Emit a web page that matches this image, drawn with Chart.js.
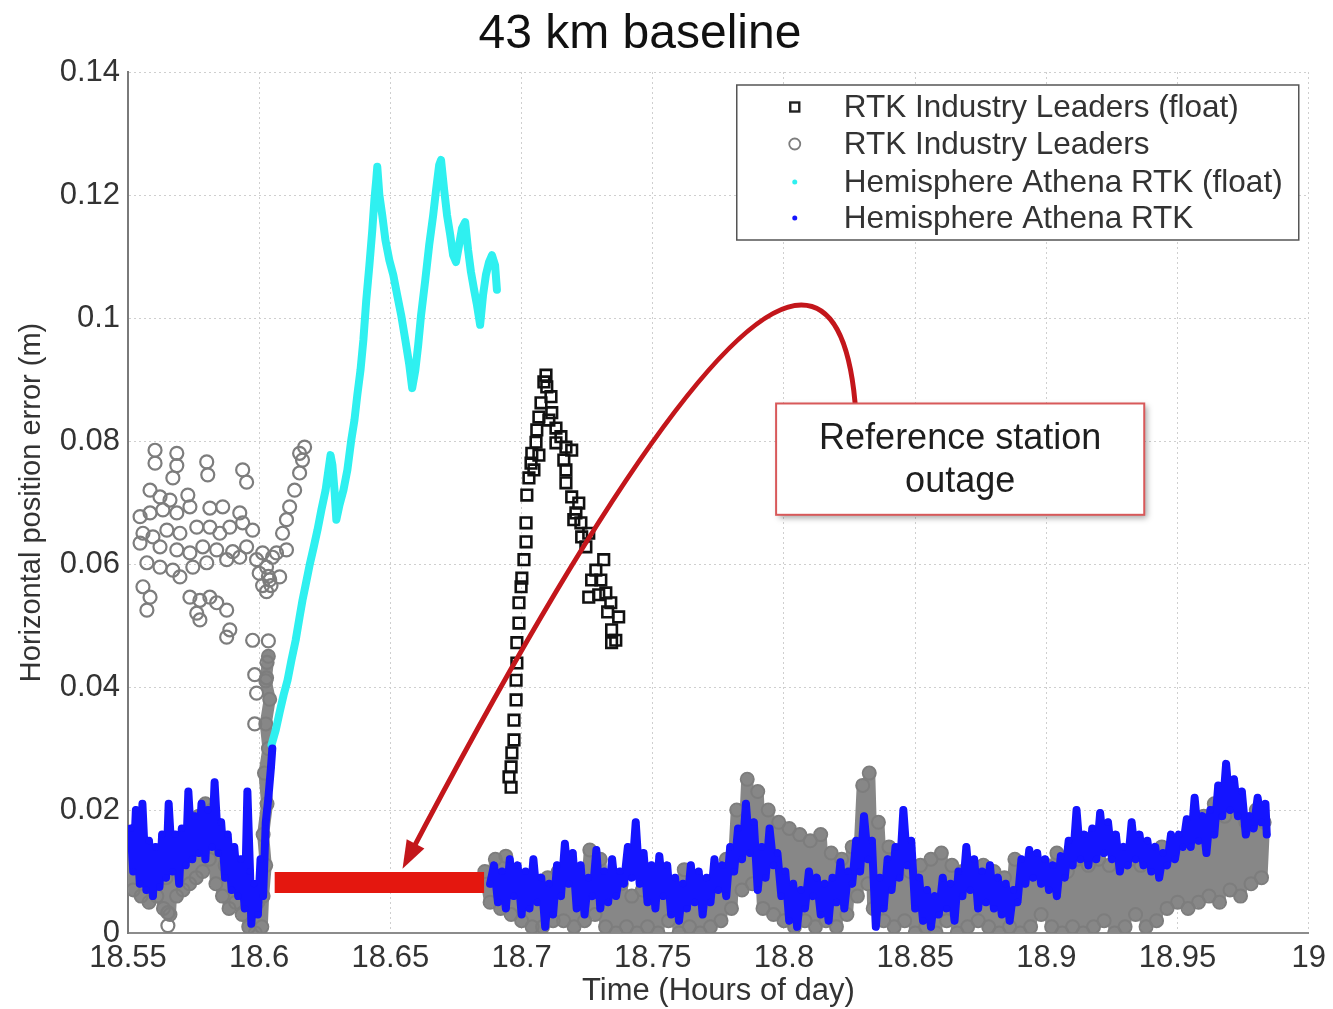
<!DOCTYPE html>
<html>
<head>
<meta charset="utf-8">
<title>43 km baseline</title>
<script src="https://cdn.jsdelivr.net/npm/chart.js@4.4.1/dist/chart.umd.min.js"></script>
<style>
  html, body { margin: 0; padding: 0; background: #fff; }
  #grafica { display: block; }
</style>
</head>
<body>
<canvas id="grafica" width="1333" height="1009"></canvas>
<script>
// ticks
const xTicks = [18.55, 18.6, 18.65, 18.7, 18.75, 18.8, 18.85, 18.9, 18.95, 19];
const yTicks = [0, 0.02, 0.04, 0.06, 0.08, 0.1, 0.12, 0.14];

const chartTitle = "43 km baseline";
const legendLabels = [
  "RTK Industry Leaders (float)",
  "RTK Industry Leaders",
  "Hemisphere Athena RTK (float)",
  "Hemisphere Athena RTK"
];

// RTK Industry Leaders (float) - squares [hour, m]
const leadersFloat = [
  [18.7093,0.0907],[18.7096,0.0888],[18.7074,0.0862],[18.7112,0.0872],[18.7066,0.0839],[18.7115,0.0846],
  [18.7058,0.0818],[18.7131,0.0821],[18.7055,0.0798],[18.7150,0.0807],[18.7039,0.0780],[18.7169,0.0790],
  [18.7191,0.0785],[18.7036,0.0764],[18.7161,0.0769],[18.7028,0.0740],[18.7169,0.0753],[18.7020,0.0712],
  [18.7169,0.0732],[18.7191,0.0709],[18.7218,0.0699],[18.7207,0.0683],[18.7226,0.0667],[18.7229,0.0644],
  [18.7256,0.0650],[18.7245,0.0628],[18.7017,0.0667],[18.7017,0.0636],[18.7009,0.0607],[18.7001,0.0577],
  [18.6998,0.0563],[18.7313,0.0607],[18.7267,0.0574],[18.7256,0.0546],[18.7302,0.0574],[18.7321,0.0553],
  [18.7340,0.0537],[18.7370,0.0514],[18.7343,0.0493],[18.7343,0.0472],[18.7359,0.0476],[18.6990,0.0537],
  [18.6990,0.0504],[18.6982,0.0472],[18.6982,0.0439],[18.6979,0.0411],[18.6979,0.0379],[18.6971,0.0346],
  [18.6971,0.0314],[18.6963,0.0293],[18.6960,0.0270],[18.6952,0.0254],[18.6960,0.0237],[18.7131,0.0797],
  [18.7085,0.0896],[18.7104,0.0834],[18.7199,0.0672],[18.7283,0.0590],[18.7328,0.0522],[18.7294,0.0550],
  [18.7047,0.0753],[18.7066,0.0777]
];

// RTK Industry Leaders - scattered circles
const leadersScatter = [
  [18.5603,0.0785],[18.5603,0.0764],[18.5686,0.0780],[18.5686,0.0760],[18.5671,0.0740],[18.5800,0.0766],
  [18.5804,0.0745],[18.5937,0.0753],[18.5952,0.0733],[18.5584,0.0720],[18.5622,0.0709],[18.5660,0.0704],
  [18.5728,0.0712],[18.5546,0.0677],[18.5584,0.0683],[18.5633,0.0688],[18.5686,0.0683],[18.5736,0.0693],
  [18.5812,0.0691],[18.5861,0.0693],[18.5926,0.0683],[18.5557,0.0650],[18.5595,0.0644],[18.5648,0.0655],
  [18.5698,0.0650],[18.5762,0.0660],[18.5812,0.0660],[18.5850,0.0650],[18.5888,0.0660],[18.5937,0.0667],
  [18.5975,0.0655],[18.5546,0.0634],[18.5622,0.0628],[18.5686,0.0623],[18.5736,0.0618],[18.5785,0.0628],
  [18.5838,0.0623],[18.5899,0.0620],[18.5952,0.0628],[18.6013,0.0618],[18.6051,0.0611],[18.6104,0.0623],
  [18.5572,0.0602],[18.5622,0.0595],[18.5671,0.0590],[18.5747,0.0595],[18.5800,0.0602],[18.5876,0.0607],
  [18.5926,0.0611],[18.5990,0.0607],[18.6028,0.0595],[18.6040,0.0574],[18.6078,0.0579],[18.5557,0.0563],
  [18.5584,0.0546],[18.5572,0.0525],[18.5698,0.0579],[18.5736,0.0546],[18.5774,0.0541],[18.5812,0.0546],
  [18.5838,0.0537],[18.5762,0.0520],[18.5774,0.0509],[18.5876,0.0525],[18.5888,0.0493],[18.5876,0.0481],
  [18.6066,0.0618],[18.6089,0.0650],[18.6104,0.0672],[18.6116,0.0693],[18.6135,0.0720],[18.6154,0.0748],
  [18.6165,0.0769],[18.6173,0.0790],[18.6154,0.0780],[18.5975,0.0476],[18.5983,0.0420],[18.5990,0.0390],
  [18.5983,0.0340],[18.6013,0.0565],[18.6028,0.0555],[18.6035,0.0580],[18.6045,0.0565],[18.6000,0.0585],
  [18.6035,0.0475],[18.6030,0.0440],[18.6028,0.0415],[18.5652,0.0033],[18.5652,0.0012]
];

// RTK Industry Leaders - dense trace before the outage
const leadersBefore = [
  [18.551,0.014],[18.552,0.007],[18.5535,0.013],[18.555,0.006],[18.5565,0.012],[18.558,0.005],
  [18.5595,0.011],[18.561,0.006],[18.562,0.010],[18.5635,0.004],[18.5645,0.009],[18.566,0.003],
  [18.567,0.011],[18.5685,0.006],[18.5695,0.013],[18.571,0.007],[18.572,0.014],[18.5735,0.008],
  [18.5745,0.016],[18.576,0.009],[18.577,0.019],[18.5785,0.010],[18.5795,0.021],[18.581,0.012],
  [18.582,0.020],[18.5835,0.008],[18.5845,0.015],[18.586,0.006],[18.587,0.011],[18.5885,0.004],
  [18.5895,0.012],[18.591,0.005],[18.592,0.010],[18.5935,0.003],[18.5945,0.008],[18.596,0.001],
  [18.597,0.006],[18.5985,0.000],[18.5995,0.005],[18.601,0.001],[18.6015,0.006],[18.6025,0.011],
  [18.6015,0.016],[18.603,0.021],[18.602,0.026],[18.6035,0.030],[18.6025,0.034],[18.604,0.038],
  [18.6025,0.041],[18.6035,0.045]
];

// RTK Industry Leaders - dense trace after the outage
const leadersAfter = [
  [18.686,0.010],[18.688,0.005],[18.690,0.012],[18.692,0.004],[18.694,0.0125],[18.696,0.003],
  [18.698,0.009],[18.700,0.002],[18.702,0.008],[18.704,0.001],[18.706,0.007],[18.708,0.001],
  [18.710,0.009],[18.712,0.002],[18.714,0.010],[18.716,0.002],[18.718,0.009],[18.720,0.001],
  [18.722,0.008],[18.724,0.002],[18.726,0.0135],[18.728,0.003],[18.730,0.012],[18.732,0.001],
  [18.734,0.007],[18.736,0.000],[18.738,0.008],[18.740,0.001],[18.742,0.006],[18.744,0.000],
  [18.746,0.007],[18.748,0.001],[18.750,0.006],[18.752,0.000],[18.754,0.007],[18.756,0.002],
  [18.758,0.006],[18.760,0.000],[18.762,0.0103],[18.764,0.001],[18.766,0.007],[18.768,0.000],
  [18.770,0.006],[18.772,0.001],[18.774,0.008],[18.776,0.002],[18.778,0.012],[18.780,0.004],
  [18.782,0.020],[18.784,0.007],[18.786,0.025],[18.788,0.008],[18.790,0.023],[18.792,0.004],
  [18.794,0.020],[18.796,0.003],[18.798,0.018],[18.800,0.002],[18.802,0.017],[18.804,0.001],
  [18.806,0.016],[18.808,0.002],[18.810,0.015],[18.812,0.001],[18.814,0.016],[18.816,0.002],
  [18.818,0.013],[18.820,0.001],[18.822,0.012],[18.824,0.003],[18.826,0.014],[18.828,0.006],
  [18.830,0.024],[18.832,0.008],[18.8325,0.026],[18.834,0.004],[18.836,0.018],[18.838,0.002],
  [18.840,0.014],[18.842,0.001],[18.844,0.013],[18.846,0.002],[18.848,0.010],[18.850,0.000],
  [18.852,0.011],[18.854,0.001],[18.856,0.012],[18.858,0.000],[18.860,0.013],[18.862,0.002],
  [18.864,0.011],[18.866,0.000],[18.868,0.010],[18.870,0.001],[18.872,0.009],[18.874,0.002],
  [18.876,0.011],[18.878,0.001],[18.880,0.010],[18.882,0.000],[18.884,0.009],[18.886,0.001],
  [18.888,0.012],[18.890,0.000],[18.892,0.011],[18.894,0.001],[18.896,0.010],[18.898,0.003],
  [18.900,0.011],[18.902,0.001],[18.904,0.013],[18.906,0.000],[18.908,0.010],[18.910,0.001],
  [18.912,0.012],[18.914,0.000],[18.916,0.011],[18.918,0.001],[18.920,0.012],[18.922,0.002],
  [18.924,0.011],[18.926,0.000],[18.928,0.013],[18.930,0.001],[18.932,0.012],[18.934,0.003],
  [18.936,0.011],[18.938,0.001],[18.940,0.012],[18.942,0.002],[18.944,0.014],[18.946,0.004],
  [18.948,0.013],[18.950,0.005],[18.952,0.015],[18.954,0.004],[18.956,0.017],[18.958,0.005],
  [18.960,0.019],[18.962,0.006],[18.964,0.021],[18.966,0.005],[18.968,0.019],[18.970,0.007],
  [18.972,0.021],[18.974,0.006],[18.976,0.018],[18.978,0.008],[18.980,0.020],[18.982,0.009],
  [18.983,0.018]
];

// Hemisphere Athena RTK (float) - cyan
const athenaFloat = [
  [18.6047,0.0306],[18.6063,0.0330],[18.6078,0.0359],[18.6093,0.0387],[18.6108,0.0411],[18.6123,0.0444],
  [18.6139,0.0476],[18.6154,0.0514],[18.6165,0.0541],[18.6177,0.0566],[18.6192,0.0598],[18.6207,0.0626],
  [18.6222,0.0655],[18.6237,0.0688],[18.6253,0.0720],[18.6264,0.0753],[18.6272,0.0777],[18.6279,0.0761],
  [18.6287,0.0720],[18.6294,0.0672],[18.6306,0.0696],[18.6321,0.0720],[18.6336,0.0753],[18.6351,0.0802],
  [18.6363,0.0834],[18.6374,0.0875],[18.6386,0.0915],[18.6397,0.0964],[18.6408,0.1029],[18.6420,0.1086],
  [18.6431,0.1143],[18.6439,0.1192],[18.6446,0.1224],[18.6450,0.1246],[18.6458,0.1200],[18.6469,0.1167],
  [18.6481,0.1127],[18.6496,0.1094],[18.6511,0.1070],[18.6526,0.1037],[18.6541,0.1005],[18.6557,0.0964],
  [18.6572,0.0924],[18.6583,0.0886],[18.6595,0.0915],[18.6606,0.0956],[18.6617,0.1005],[18.6633,0.1062],
  [18.6648,0.1119],[18.6663,0.1167],[18.6674,0.1208],[18.6686,0.1249],[18.6693,0.1257],[18.6705,0.1208],
  [18.6716,0.1167],[18.6728,0.1135],[18.6739,0.1102],[18.6750,0.1091],[18.6762,0.1119],[18.6773,0.1146],
  [18.6785,0.1156],[18.6796,0.1111],[18.6807,0.1075],[18.6819,0.1046],[18.6830,0.1021],[18.6842,0.0989],
  [18.6853,0.1037],[18.6864,0.1070],[18.6876,0.1091],[18.6887,0.1102],[18.6899,0.1086],[18.6906,0.1046]
];

// Hemisphere Athena RTK - blue, before the outage
const athenaBefore = [
  [18.551,0.017],[18.552,0.010],[18.553,0.020],[18.5545,0.008],[18.5555,0.021],[18.557,0.007],
  [18.558,0.015],[18.5595,0.006],[18.5605,0.014],[18.562,0.0075],[18.563,0.016],[18.5645,0.009],
  [18.5655,0.021],[18.567,0.010],[18.568,0.016],[18.5695,0.008],[18.5705,0.017],[18.572,0.011],
  [18.573,0.023],[18.5745,0.012],[18.5755,0.019],[18.577,0.013],[18.578,0.021],[18.5795,0.012],
  [18.5805,0.020],[18.582,0.014],[18.583,0.0245],[18.5845,0.013],[18.5855,0.018],[18.587,0.009],
  [18.588,0.016],[18.5895,0.007],[18.5905,0.014],[18.592,0.006],[18.593,0.012],[18.5945,0.004],
  [18.5955,0.023],[18.5965,0.010],[18.597,0.0015],[18.598,0.008],[18.5995,0.003],[18.6005,0.012],
  [18.6015,0.006],[18.6025,0.018],[18.6035,0.022],[18.6045,0.027],[18.605,0.030]
];

// Hemisphere Athena RTK - blue, after the outage
const athenaAfter = [
  [18.688,0.008],[18.6895,0.011],[18.691,0.005],[18.6925,0.010],[18.694,0.004],[18.6955,0.012],
  [18.697,0.006],[18.6985,0.011],[18.700,0.003],[18.7015,0.010],[18.703,0.004],[18.7045,0.012],
  [18.706,0.005],[18.7075,0.009],[18.709,0.001],[18.7105,0.008],[18.712,0.003],[18.7135,0.011],
  [18.715,0.006],[18.7165,0.0145],[18.718,0.008],[18.7195,0.013],[18.721,0.004],[18.7225,0.011],
  [18.724,0.003],[18.7255,0.009],[18.727,0.006],[18.7285,0.0135],[18.730,0.004],[18.7315,0.010],
  [18.733,0.005],[18.7345,0.012],[18.736,0.006],[18.7375,0.010],[18.739,0.008],[18.7405,0.014],
  [18.742,0.009],[18.7435,0.018],[18.745,0.008],[18.7465,0.013],[18.748,0.005],[18.7495,0.011],
  [18.751,0.004],[18.7525,0.0125],[18.754,0.006],[18.7555,0.011],[18.757,0.003],[18.7585,0.009],
  [18.760,0.002],[18.7615,0.008],[18.763,0.004],[18.7645,0.011],[18.766,0.005],[18.7675,0.010],
  [18.769,0.003],[18.7705,0.009],[18.772,0.005],[18.7735,0.012],[18.775,0.007],[18.7765,0.011],
  [18.778,0.006],[18.7795,0.014],[18.781,0.010],[18.7825,0.017],[18.784,0.012],[18.7855,0.021],
  [18.787,0.013],[18.7885,0.018],[18.790,0.007],[18.7915,0.014],[18.793,0.009],[18.7945,0.017],
  [18.796,0.011],[18.7975,0.013],[18.799,0.006],[18.8005,0.010],[18.802,0.002],[18.8035,0.008],
  [18.805,0.001],[18.8065,0.007],[18.808,0.004],[18.8095,0.010],[18.811,0.006],[18.8125,0.009],
  [18.814,0.003],[18.8155,0.008],[18.817,0.002],[18.8185,0.009],[18.820,0.005],[18.8215,0.0115],
  [18.823,0.004],[18.8245,0.010],[18.826,0.008],[18.8275,0.015],[18.829,0.010],[18.8305,0.019],
  [18.832,0.012],[18.8335,0.015],[18.835,0.001],[18.8365,0.009],[18.838,0.004],[18.8395,0.012],
  [18.841,0.007],[18.8425,0.014],[18.844,0.009],[18.8455,0.020],[18.847,0.011],[18.8485,0.015],
  [18.850,0.004],[18.8515,0.009],[18.853,0.002],[18.8545,0.007],[18.856,0.001],[18.8575,0.006],
  [18.859,0.003],[18.8605,0.009],[18.862,0.004],[18.8635,0.008],[18.865,0.002],[18.8665,0.010],
  [18.868,0.006],[18.8695,0.014],[18.871,0.007],[18.8725,0.012],[18.874,0.004],[18.8755,0.010],
  [18.877,0.005],[18.8785,0.011],[18.880,0.004],[18.8815,0.009],[18.883,0.003],[18.8845,0.008],
  [18.886,0.002],[18.8875,0.007],[18.889,0.005],[18.8905,0.012],[18.892,0.008],[18.8935,0.0135],
  [18.895,0.009],[18.8965,0.013],[18.898,0.008],[18.8995,0.012],[18.901,0.007],[18.9025,0.011],
  [18.904,0.006],[18.9055,0.0125],[18.907,0.009],[18.9085,0.015],[18.910,0.011],[18.9115,0.020],
  [18.913,0.012],[18.9145,0.016],[18.916,0.011],[18.9175,0.017],[18.919,0.012],[18.9205,0.0195],
  [18.922,0.013],[18.9235,0.018],[18.925,0.012],[18.9265,0.016],[18.928,0.010],[18.9295,0.014],
  [18.931,0.011],[18.9325,0.018],[18.934,0.012],[18.9355,0.016],[18.937,0.011],[18.9385,0.015],
  [18.940,0.010],[18.9415,0.014],[18.943,0.009],[18.9445,0.013],[18.946,0.011],[18.9475,0.016],
  [18.949,0.012],[18.9505,0.016],[18.952,0.014],[18.9535,0.0185],[18.955,0.014],[18.9565,0.022],
  [18.958,0.015],[18.9595,0.019],[18.961,0.013],[18.9625,0.020],[18.964,0.016],[18.9655,0.024],
  [18.967,0.019],[18.9685,0.0275],[18.970,0.020],[18.9715,0.025],[18.973,0.019],[18.9745,0.023],
  [18.976,0.016],[18.9775,0.019],[18.979,0.017],[18.9805,0.022],[18.982,0.018],[18.9835,0.021],
  [18.984,0.016]
];

// reference station outage (red bar)
const outage = [[18.6059, 0.0082], [18.6857, 0.0082]];

const toXY = arr => arr.map(p => ({ x: p[0], y: p[1] }));
const FONT = "'Liberation Sans', Arial, Helvetica, sans-serif";

const GRAY = "#7d7d7d";
const CYAN = "#2ff0f0";
const BLUE = "#1414ff";

// title, arrow, box and legend drawn on top of the plot
const extras = {
  id: "extras",
  afterDatasetsDraw(chart) {
    const c = chart.ctx, xs = chart.scales.x, ys = chart.scales.y;
    const P = (x, y) => [xs.getPixelForValue(x), ys.getPixelForValue(y)];
    const p0 = P(18.8271, 0.0862), c1 = P(18.8237, 0.1021), p1 = P(18.8066, 0.1021);
    const c2 = P(18.7674, 0.1021), p2 = P(18.6564, 0.0119);
    c.save();
    c.strokeStyle = "#c3161b";
    c.fillStyle = "#c3161b";
    c.lineWidth = 5;
    c.lineCap = "round";
    c.beginPath();
    c.moveTo(p0[0], p0[1]);
    c.quadraticCurveTo(c1[0], c1[1], p1[0], p1[1]);
    c.quadraticCurveTo(c2[0], c2[1], p2[0], p2[1]);
    c.stroke();
    // arrow head
    let dx = p2[0] - c2[0], dy = p2[1] - c2[1];
    const len = Math.hypot(dx, dy); dx /= len; dy /= len;
    const tip = [p2[0] + dx * 10, p2[1] + dy * 10];
    const base = [tip[0] - dx * 28, tip[1] - dy * 28];
    c.beginPath();
    c.moveTo(tip[0], tip[1]);
    c.lineTo(base[0] - dy * 10, base[1] + dx * 10);
    c.lineTo(base[0] + dy * 10, base[1] - dx * 10);
    c.closePath();
    c.fill();
    c.restore();
  },
  afterDraw(chart) {
    const c = chart.ctx, a = chart.chartArea, xs = chart.scales.x, ys = chart.scales.y;

    // title
    c.save();
    c.fillStyle = "#111";
    c.font = "48px " + FONT;
    c.textAlign = "center";
    c.textBaseline = "middle";
    c.fillText(chartTitle, 640, 35);
    c.restore();

    // annotation box
    const l = xs.getPixelForValue(18.797), r = xs.getPixelForValue(18.9373);
    const t = ys.getPixelForValue(0.0861), b = ys.getPixelForValue(0.068);
    c.save();
    c.shadowColor = "rgba(0,0,0,0.35)";
    c.shadowBlur = 6;
    c.shadowOffsetX = 3;
    c.shadowOffsetY = 3;
    c.fillStyle = "#fff";
    c.fillRect(l, t, r - l, b - t);
    c.restore();
    c.save();
    c.strokeStyle = "#d8595a";
    c.lineWidth = 2;
    c.strokeRect(l, t, r - l, b - t);
    c.fillStyle = "#1e1e1e";
    c.font = "36px " + FONT;
    c.textAlign = "center";
    c.textBaseline = "middle";
    c.fillText("Reference station", (l + r) / 2, t + 36);
    c.fillText("outage", (l + r) / 2, t + 79);
    c.restore();

    // legend
    const bw = 562, bh = 155;
    const bx = a.right - 10 - bw, by = a.top + 13;
    c.save();
    c.fillStyle = "#fff";
    c.fillRect(bx, by, bw, bh);
    c.strokeStyle = "#555";
    c.lineWidth = 1.5;
    c.strokeRect(bx, by, bw, bh);
    const rows = [22, 59, 97, 133];
    const mx = bx + 58;
    c.font = "31.5px " + FONT;
    c.textBaseline = "middle";
    c.textAlign = "left";
    legendLabels.forEach((txt, i) => {
      const yy = by + rows[i];
      if (i === 0) {
        c.strokeStyle = "#222"; c.lineWidth = 2.4;
        c.strokeRect(mx - 4.5, yy - 4.5, 9, 9);
      } else if (i === 1) {
        c.strokeStyle = GRAY; c.lineWidth = 1.8;
        c.beginPath(); c.arc(mx, yy, 5.5, 0, Math.PI * 2); c.stroke();
      } else {
        c.fillStyle = i === 2 ? CYAN : BLUE;
        c.beginPath(); c.arc(mx, yy, 2.5, 0, Math.PI * 2); c.fill();
      }
      c.fillStyle = "#333";
      c.fillText(txt, bx + 107, yy + 1);
    });
    c.restore();
  }
};

const grayBand = (arr) => ({
  data: toXY(arr),
  showLine: true,
  borderColor: "#878787",
  borderWidth: 12,
  borderJoinStyle: "round",
  borderCapStyle: "round",
  pointStyle: "circle",
  pointRadius: 6.5,
  pointBorderWidth: 2,
  pointBorderColor: GRAY,
  pointBackgroundColor: "rgba(255,255,255,0)",
  order: 4
});

const blueBand = (arr) => ({
  data: toXY(arr),
  showLine: true,
  borderColor: BLUE,
  borderWidth: 8,
  borderJoinStyle: "round",
  borderCapStyle: "round",
  pointRadius: 3.5,
  pointBorderWidth: 0,
  pointBackgroundColor: BLUE,
  order: 2
});

new Chart(document.getElementById("grafica").getContext("2d"), {
  type: "scatter",
  data: {
    datasets: [
      {
        label: legendLabels[0],
        data: toXY(leadersFloat),
        pointStyle: "rect",
        pointRadius: 7.5,
        pointBorderWidth: 2.6,
        pointBorderColor: "#111",
        pointBackgroundColor: "rgba(255,255,255,0)",
        order: 0
      },
      {
        label: legendLabels[1],
        data: toXY(leadersScatter),
        pointStyle: "circle",
        pointRadius: 6.5,
        pointBorderWidth: 2.2,
        pointBorderColor: GRAY,
        pointBackgroundColor: "rgba(255,255,255,0)",
        order: 4
      },
      grayBand(leadersBefore),
      grayBand(leadersAfter),
      {
        label: legendLabels[2],
        data: toXY(athenaFloat),
        showLine: true,
        borderColor: CYAN,
        borderWidth: 8,
        borderJoinStyle: "round",
        borderCapStyle: "round",
        pointRadius: 3,
        pointBorderWidth: 0,
        pointBackgroundColor: CYAN,
        order: 3
      },
      Object.assign(blueBand(athenaBefore), { label: legendLabels[3] }),
      blueBand(athenaAfter),
      {
        data: toXY(outage),
        showLine: true,
        borderColor: "#e4170f",
        borderWidth: 21,
        borderCapStyle: "butt",
        pointRadius: 0,
        order: 1
      }
    ]
  },
  options: {
    responsive: false,
    animation: false,
    events: [],
    layout: { padding: { top: 72, right: 21, bottom: 0, left: 0 } },
    elements: { line: { tension: 0 } },
    plugins: {
      legend: { display: false },
      tooltip: { enabled: false },
      title: { display: false }
    },
    scales: {
      x: {
        type: "linear",
        min: 18.55,
        max: 19,
        afterBuildTicks: s => { s.ticks = xTicks.map(v => ({ value: v })); },
        afterFit: s => { s.height = 76; },
        ticks: {
          color: "#333",
          padding: 7,
          font: { family: FONT, size: 31 },
          callback: v => String(v)
        },
        grid: { color: "#cfcfcf", lineWidth: 1, drawTicks: false },
        border: { color: "#8c8c8c", width: 2, dash: [2, 3] },
        title: {
          display: true,
          text: "Time (Hours of day)",
          color: "#333",
          font: { family: FONT, size: 31, lineHeight: 1.1 },
          padding: { top: 0, bottom: 0 }
        }
      },
      y: {
        type: "linear",
        min: 0,
        max: 0.14,
        afterBuildTicks: s => { s.ticks = yTicks.map(v => ({ value: v })); },
        afterFit: s => { s.width = 128; },
        ticks: {
          color: "#333",
          padding: 8,
          font: { family: FONT, size: 31 },
          callback: v => String(+v.toFixed(2))
        },
        grid: { color: "#cfcfcf", lineWidth: 1, drawTicks: false },
        border: { color: "#7a7a7a", width: 2, dash: [2, 3] },
        title: {
          display: true,
          text: "Horizontal position error (m)",
          color: "#333",
          font: { family: FONT, size: 29, lineHeight: 1.1 },
          padding: { top: 16, bottom: 0 }
        }
      }
    }
  },
  plugins: [extras]
});
</script>
</body>
</html>
